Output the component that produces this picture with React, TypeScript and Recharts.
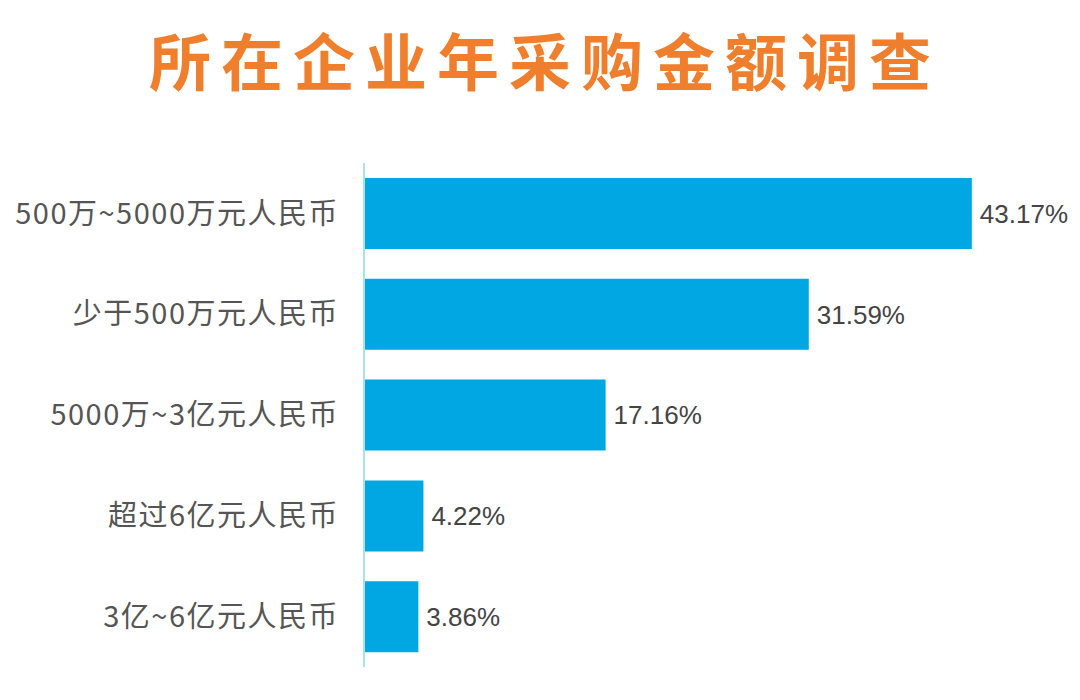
import React from 'react';
import { BarChart, Bar, XAxis, YAxis, LabelList } from 'recharts';

const categories = [
  '500万~5000万元人民币',
  '少于500万元人民币',
  '5000万~3亿元人民币',
  '超过6亿元人民币',
  '3亿~6亿元人民币',
];
const shares = [43.17, 31.59, 17.16, 4.22, 3.86];

const data = categories.map((name, i) => ({ name, value: shares[i] }));

const CJK = '"Noto Sans CJK SC", "Noto Sans", sans-serif';

export default function App() {
  return (
    <div style={{ position: 'absolute', left: 0, top: 0, width: 1080, height: 700, background: '#fff' }}>
      <div
        style={{
          position: 'absolute',
          left: 5,
          top: 19,
          width: 1080,
          textAlign: 'center',
          fontFamily: CJK,
          fontWeight: 700,
          fontSize: 62,
          letterSpacing: 10,
          color: '#F07F2D',
          lineHeight: '80px',
        }}
      >
        所在企业年采购金额调查
      </div>
      <BarChart
        width={1080}
        height={700}
        data={data}
        layout="vertical"
        margin={{ top: 163, right: 12, bottom: 33, left: 0 }}
        barCategoryGap={15}
      >
        <XAxis type="number" domain={[0, 50]} hide />
        <YAxis
          type="category"
          dataKey="name"
          width={364}
          axisLine={{ stroke: '#a6e3ef', strokeWidth: 2 }}
          tickLine={false}
          tickMargin={19}
          tick={{ fill: '#555', fontSize: 29, fontFamily: CJK, letterSpacing: 1.5 }}
        />
        <Bar dataKey="value" fill="#00A7E3" isAnimationActive={false}>
          <LabelList
            dataKey="value"
            position="right"
            offset={8}
            formatter={(v: number) => v.toFixed(2) + '%'}
            style={{ fill: '#444', fontSize: 26, fontFamily: '"Liberation Sans", Arial, sans-serif' }}
          />
        </Bar>
      </BarChart>
    </div>
  );
}
